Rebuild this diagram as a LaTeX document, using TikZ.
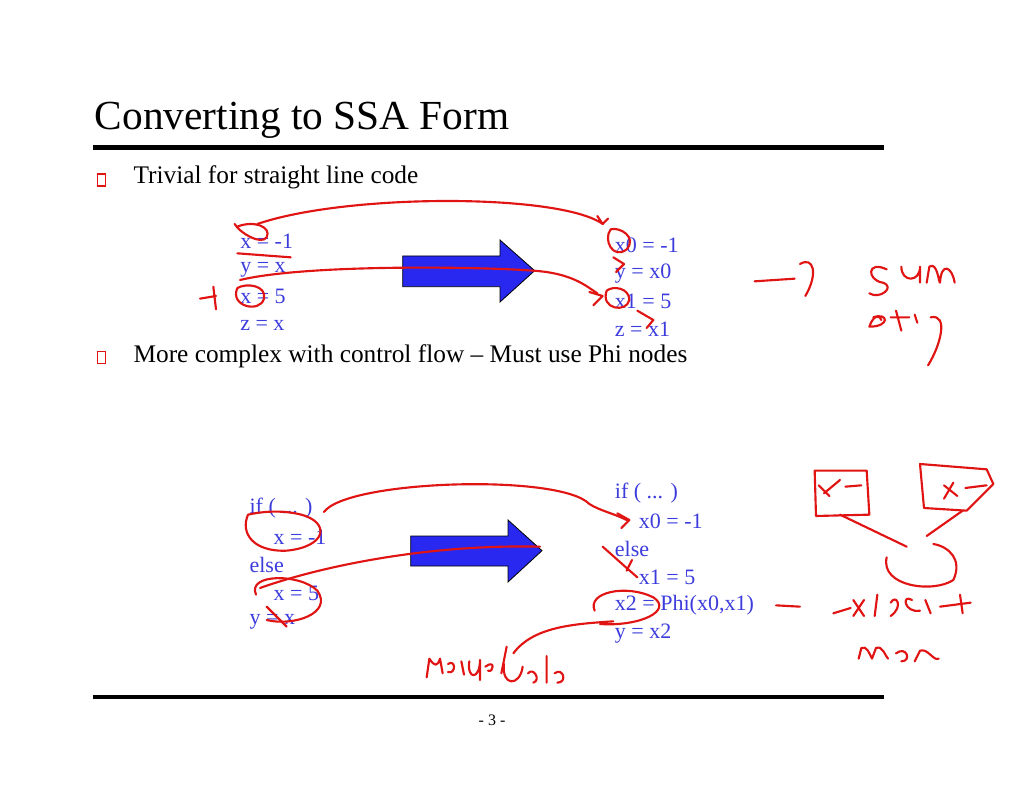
\documentclass[tikz,border=0pt]{standalone}
\usepackage{fontspec}
\setmainfont{Liberation Serif}
\definecolor{codeblue}{RGB}{60,60,220}
\definecolor{ink}{RGB}{225,20,20}
\definecolor{arrowblue}{RGB}{40,40,240}
\begin{document}
\begin{tikzpicture}[x=1pt,y=-1pt,
  code/.style={anchor=west,inner sep=0,text=codeblue,font=\fontsize{16.5}{16.5}\selectfont},
  body/.style={anchor=west,inner sep=0,font=\fontsize{19}{19}\selectfont},
  bul/.style={draw=ink,line width=0.8pt,minimum width=6,minimum height=9,inner sep=0},
  bigarrow/.style={draw=black,fill=arrowblue,line width=0.6pt},
  pen/.style={draw=ink,line width=1.6pt,line cap=round,line join=round}]
\useasboundingbox (0,0) rectangle (768,593);
\node[anchor=west,inner sep=0,font=\fontsize{31}{31}\selectfont] (title) at (71,90) {Converting to SSA Form};
\draw[line width=3.5pt] (70,110.5) -- (663,110.5);
\draw[line width=3pt] (70,522.5) -- (663,522.5);
\node[inner sep=0,font=\fontsize{12}{12}\selectfont] (page) at (369,540) {- 3 -};
\node[bul] (b1) at (76,135) {};
\node[body] (t1) at (100,133) {Trivial for straight line code};
\node[bul] (b2) at (76,268) {};
\node[body] (t2) at (100,267) {More complex with control flow -- Must use Phi nodes};
% straight-line code
\node[code] (a1) at (180,181) {x = -1};
\node[code] (a2) at (180,202) {y = x};
\node[code] (a3) at (180,222) {x = 5};
\node[code] (a4) at (180,244) {z = x};
\node[code] (c1) at (461,184) {x0 = -1};
\node[code] (c2) at (461,205) {y = x0};
\node[code] (c3) at (461,226) {x1 = 5};
\node[code] (c4) at (461,247) {z = x1};
\draw[bigarrow] (302,192) -- (375,192) -- (375,180) -- (401,203) -- (375,226.5) -- (375,215) -- (302,215) -- cycle;
% control flow code
\node[code] (d1) at (187,381) {if ( ... )};
\node[code] (d2) at (205,403) {x = -1};
\node[code] (d3) at (187,424) {else};
\node[code] (d4) at (205,445) {x = 5};
\node[code] (d5) at (187,466) {y = x};
\node[code] (e1) at (461,370) {if ( ... )};
\node[code] (e2) at (479,391) {x0 = -1};
\node[code] (e3) at (461,412) {else};
\node[code] (e4) at (479,433) {x1 = 5};
\node[code] (e5) at (461,454) {x2 = Phi(x0,x1)};
\node[code] (e6) at (461,475) {y = x2};
\draw[bigarrow] (308,402) -- (381,402) -- (381,390) -- (406.5,413) -- (381,436.5) -- (381,424.5) -- (308,424.5) -- cycle;
% red annotations - top
\draw[pen] (176,168) .. controls (180,175) and (196,184) .. (200,178) .. controls (204,170) and (190,165) .. (178,170);
\draw[pen] (193,168) .. controls (260,145) and (420,145) .. (452,168) -- (448,162);
\draw[pen] (452,168) -- (456,164);
\draw[pen] (458,172) .. controls (452,180) and (460,195) .. (470,187) .. controls (478,178) and (465,170) .. (458,172);
\draw[pen] (178,190) -- (218,193);
\draw[pen] (180,210) .. controls (230,198) and (360,200) .. (400,203) .. controls (430,205) and (440,215) .. (448,220);
\draw[pen] (178,216) .. controls (172,230) and (195,235) .. (198,224) .. controls (200,214) and (185,212) .. (178,216);
\draw[pen] (150,224) -- (162,222) (160,215) -- (162,232);
\draw[pen] (442,219) -- (452,222) -- (445,229);
\draw[pen] (455,218) .. controls (450,232) and (470,235) .. (472,225) .. controls (472,216) and (460,214) .. (455,218);
\draw[pen] (478,233) -- (490,240) -- (485,246);
\draw[pen] (460,193) -- (468,198) -- (462,204);
% red right scribbles
\draw[pen] (566,211) -- (596,209) (600,198) .. controls (610,192) and (614,205) .. (604,222);
\draw[pen] (665,202) .. controls (650,195) and (650,210) .. (662,212) .. controls (672,215) and (660,225) .. (652,220) (676,200) .. controls (676,212) and (690,212) .. (690,200) -- (690,212) (695,212) -- (697,200) .. controls (703,196) and (704,212) .. (705,212) .. controls (706,196) and (714,200) .. (716,212);
\draw[pen] (655,238) .. controls (666,234) and (668,245) .. (652,245) .. controls (655,236) and (660,236) .. (661,240) (672,233) -- (676,248) (668,238) -- (682,238) (688,242) -- (686,236) (698,238) .. controls (712,235) and (705,260) .. (696,274);
% bottom annotations
\draw[pen] (186,386) .. controls (180,400) and (190,414) .. (215,413) .. controls (245,410) and (248,392) .. (226,386) .. controls (210,382) and (195,384) .. (186,386);
\draw[pen] (243,384) .. controls (260,360) and (420,355) .. (442,378) .. controls (450,383) and (460,385) .. (470,390);
\draw[pen] (463,385) -- (472,390) -- (466,396);
\draw[pen] (192,446) .. controls (185,430) and (225,430) .. (238,443) .. controls (250,460) and (220,470) .. (200,465);
\draw[pen] (195,441) .. controls (240,425) and (320,408) .. (405,410);
\draw[pen] (200,455) -- (215,470);
\draw[pen] (452,410) -- (470,426) -- (478,433) (470,428) -- (474,420);
\draw[pen] (446,458) .. controls (440,444) and (470,438) .. (490,448) .. controls (505,458) and (480,470) .. (450,468);
\draw[pen] (460,466) .. controls (430,468) and (400,470) .. (385,490);
\draw[pen] (582,454) -- (600,455);
% marged value scribble
\draw[pen] (320,508) -- (322,494) .. controls (326,500) and (328,500) .. (330,494) -- (332,505) (336,498) .. controls (342,494) and (342,506) .. (336,504) (346,496) -- (348,506) (352,496) .. controls (350,510) and (360,510) .. (360,495) -- (360,510) (364,500) .. controls (372,494) and (370,505) .. (366,503) (376,505) -- (380,485);
\draw[pen] (378,498) .. controls (376,515) and (390,515) .. (392,500) (396,505) .. controls (400,500) and (406,510) .. (400,512) (410,492) -- (410,512) (416,505) .. controls (422,500) and (426,512) .. (418,512);
% right bottom scribbles
\draw[pen] (611,353) -- (612,387) -- (652,386) -- (650,353) -- cycle;
\draw[pen] (614,364) -- (622,372) (618,370) -- (630,360) (634,365) -- (646,364);
\draw[pen] (690,348) -- (740,352) -- (745,363) -- (725,383) -- (693,381) -- cycle;
\draw[pen] (708,364) -- (718,372) (715,362) -- (708,374) (724,366) -- (740,364);
\draw[pen] (630,386) -- (680,410) (722,383) -- (695,402);
\draw[pen] (665,418) .. controls (660,440) and (700,445) .. (715,435) .. controls (722,420) and (712,410) .. (700,408);
\draw[pen] (625,460) -- (638,456) (640,450) -- (648,462) (648,450) -- (640,462) (656,462) -- (658,446) (668,452) .. controls (672,445) and (678,455) .. (668,462) (684,450) .. controls (676,445) and (678,460) .. (690,458) (694,450) -- (698,460) (705,455) -- (728,452) (720,446) -- (722,460);
\draw[pen] (644,494) -- (646,486) .. controls (650,484) and (652,490) .. (654,494) -- (657,486) .. controls (662,484) and (664,492) .. (666,494) (672,490) .. controls (680,484) and (684,496) .. (676,496) (686,496) -- (690,488) .. controls (696,486) and (700,496) .. (704,494);
\end{tikzpicture}
\end{document}
